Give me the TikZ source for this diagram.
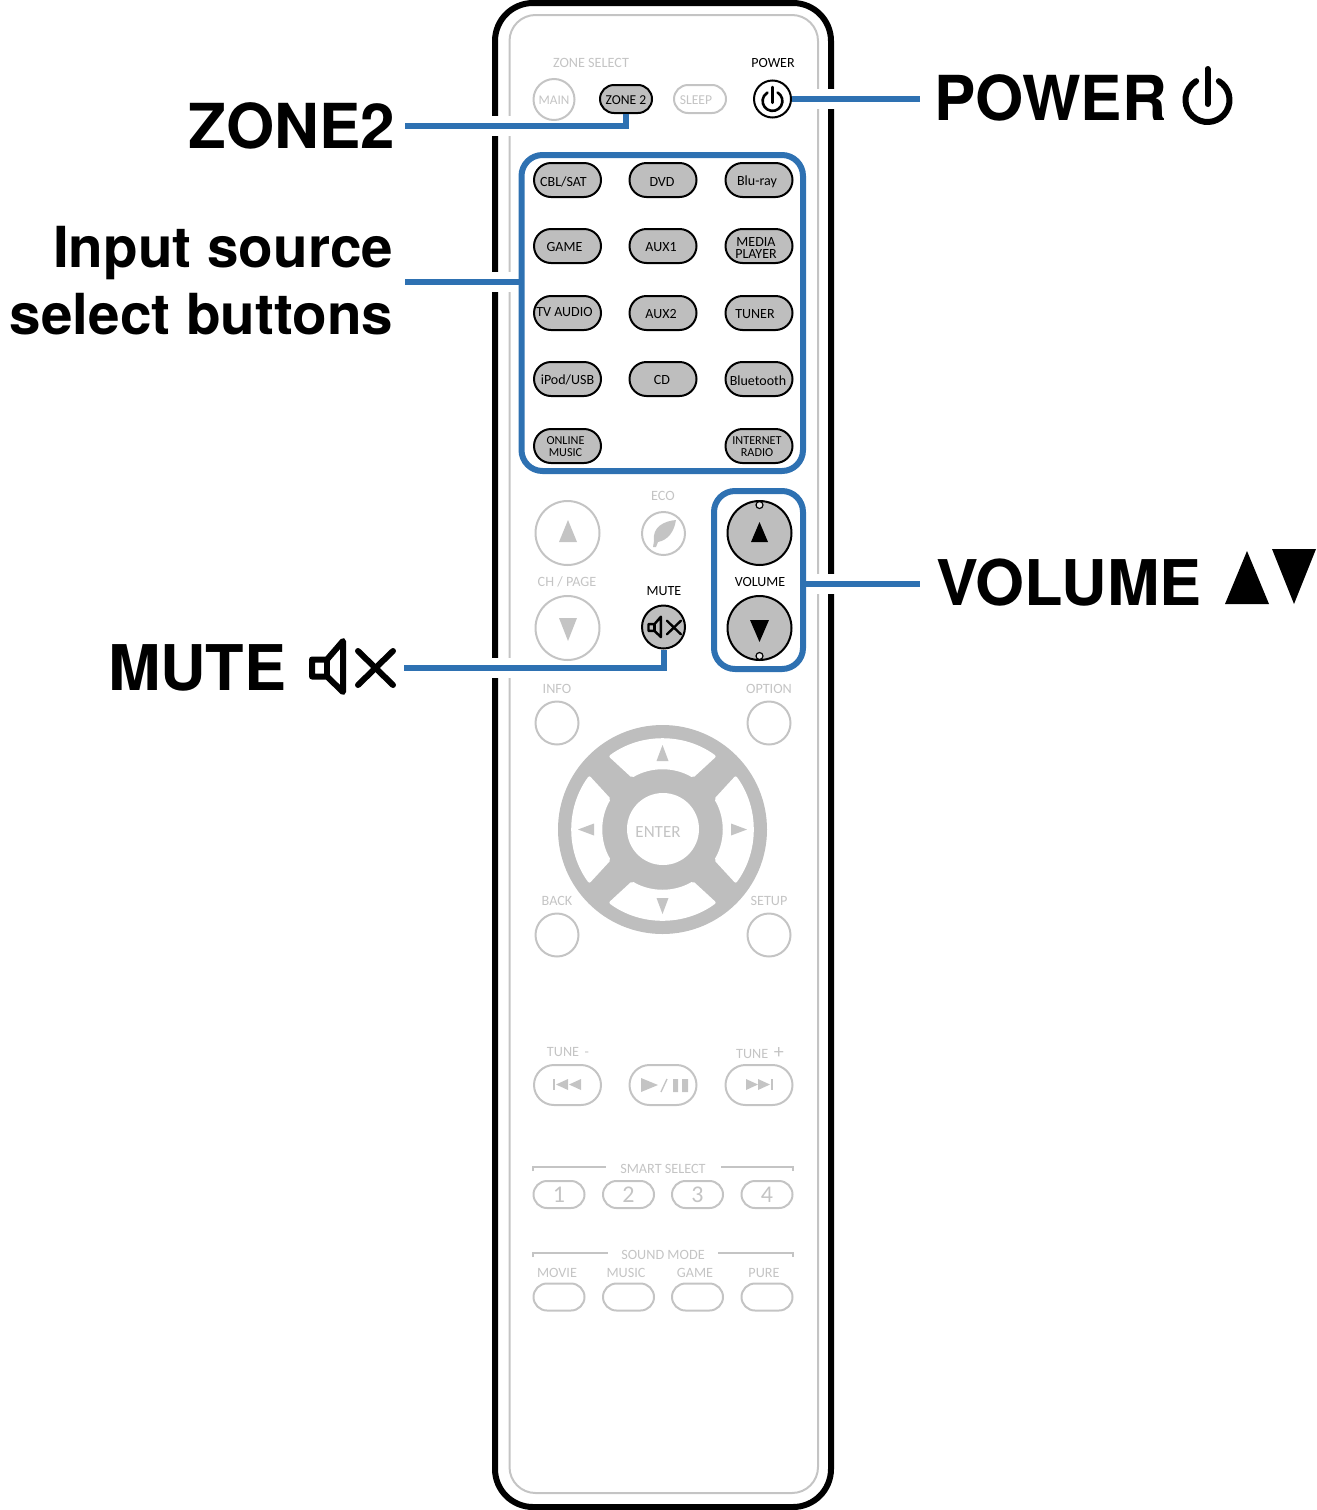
\documentclass[tikz,border=0pt]{standalone}
\usepackage{fontspec}
\setmainfont{Carlito}
\newfontfamily\heavyfont{TeX Gyre Heros}
\usetikzlibrary{calc,shapes.misc}
\definecolor{rcblue}{RGB}{46,113,178}
\definecolor{rcgray}{RGB}{190,190,190}
\definecolor{rcdim}{RGB}{196,196,196}
\newcommand{\powerglyph}[4]{%
  \begin{scope}[shift={(#1,#2)},scale=#3]
    \draw[line width=#4,line cap=round] (0,-31)--(0,4);
    \draw[line width=#4,line cap=round] (301:22) arc[start angle=301,end angle=599,radius=22];
  \end{scope}
}
\newcommand{\muteglyph}[4]{%
  \begin{scope}[shift={(#1,#2)},scale=#3,line width=#4,line join=round,line cap=round]
    \draw (-40,-8.5)--(-25,-8.5)--(-9,-27)--(-9,24)--(-25,8.5)--(-40,8.5)--cycle;
    \draw (-25,-8.5)--(-25,8.5);
    \draw (6,-17)--(41,17);
    \draw (41,-17)--(6,17);
  \end{scope}
}
\newcommand{\smallfont}{\fontsize{6.1}{6}\selectfont}
\tikzset{
  rimline/.style={line width=3pt,rounded corners=19},
  rimthin/.style={line width=1pt,draw=rcdim,rounded corners=13},
  halo/.style={line width=10pt,draw=white},
  dimtext/.style={font=\fontsize{7.1}{8}\selectfont,text=rcdim,inner sep=0pt,yshift=-.5pt},
  blacktext/.style={font=\fontsize{7}{8}\selectfont,inner sep=0pt,yshift=-.5pt},
  btntext/.style={font=\fontsize{7}{6}\selectfont,align=center,inner sep=0pt,yshift=-.5pt},
  srcpill/.style={rounded rectangle,draw,line width=1pt,fill=rcgray,minimum width=33.5pt,minimum height=17pt,inner sep=0pt},
  dimpill/.style={rounded rectangle,draw=rcdim,line width=1pt,minimum width=25.5pt,minimum height=13.5pt,inner sep=0pt},
  dimring/.style={circle,draw=rcdim,line width=1pt,inner sep=0pt},
  bluebox/.style={draw=rcblue,line width=3pt,rounded corners=10.5pt},
  callout/.style={draw=rcblue,line width=3pt},
  biglabel/.style={font=\heavyfont\bfseries\fontsize{31}{33.5}\selectfont,inner ysep=0pt,outer sep=0pt,text height=23.5pt,text depth=1.5pt},
}
\begin{document}
\begin{tikzpicture}[x=.5pt,y=-.5pt]
    \useasboundingbox (0,0) rectangle (1317,1510);
    \draw[rimline] (495,3) rectangle (831,1507);
    \draw[rimthin] (509.5,15) rectangle (818,1493);
    \foreach \hy in {126,282,668}{\draw[halo] (488,\hy)--(517,\hy);}
    \foreach \hy in {99,584}{\draw[halo] (811,\hy)--(838,\hy);}

    \node[dimtext] (zonesel) at (591,62) {ZONE SELECT};
    \node[blacktext] (powertxt) at (773,62) {POWER};
    \node[dimring,minimum size=20.5pt,label={[dimtext,font=\fontsize{6.6}{8}\selectfont]center:MAIN}] (mainbtn) at (554,99.5) {};
    \node[srcpill,minimum width=26pt,minimum height=14pt,label={[btntext,font=\fontsize{6.8}{8}\selectfont]center:ZONE 2}] (zone2) at (626,99) {};
    \node[dimpill,minimum width=26pt,minimum height=14pt,label={[dimtext,xshift=-2pt,font=\fontsize{6.8}{8}\selectfont]center:SLEEP}] (sleep) at (700,99) {};
    \node[circle,draw,line width=1pt,minimum size=18.5pt,inner sep=0pt] (powerbtn) at (772.5,99) {};
    \powerglyph{772.5}{101}{.45}{1.3pt}

    \foreach \btn/\bx/\by/\txt/\dx/\dy in {
      cbl/567.5/180/{CBL/SAT}/-2/-.5, dvd/663/180/{DVD}/-.5/-.5, bluray/759/180/{Blu-ray}/-1/-.5,
      game/567.5/246/{GAME}/-1.5/0, aux1/663/246/{AUX1}/-1/0, media/759/246/{MEDIA\\PLAYER}/-1.5/-.5,
      tvaudio/567.5/313/{TV AUDIO}/-1.5/1, aux2/663/313/{AUX2}/-1/0, tuner/759/313/{TUNER}/-2/0,
      ipod/567.5/379/{iPod/USB}/0/0, cd/663/379/{CD}/-.5/0, bluetooth/759/379/{Bluetooth}/-.5/-.5,
      online/567.5/446/{\smallfont ONLINE\\\smallfont MUSIC}/-1/0, internet/759/446/{\smallfont INTERNET\\\smallfont RADIO}/-1/0}{
      \node[srcpill,label={[btntext,xshift=\dx pt,yshift=\dy pt]center:{\txt}}] (\btn) at (\bx,\by) {};
    }

    \node[dimring,minimum size=32pt] (chup) at (567.5,533) {};
    \node[dimring,minimum size=32pt] (chdown) at (567.5,628) {};
    \fill[rcdim] (559,542)--(568,520)--(577,542)--cycle;
    \fill[rcdim] (559,618)--(568,641)--(577,618)--cycle;
    \node[dimtext] (chtxt) at (567,581) {CH / PAGE};
    \node[dimtext] (ecotxt) at (663,495) {ECO};
    \node[dimring,minimum size=21.5pt] (eco) at (663.5,533.5) {};
    \fill[rcdim] (676,520) .. controls (664,521) and (652,527) .. (654,541) -- (653,547) -- (656,547) -- (658,542) .. controls (668,540) and (674,532) .. (676,520) -- cycle;
    \node[blacktext] (mutetxt) at (664,590) {MUTE};
    \node[circle,draw,line width=1pt,fill=rcgray,minimum size=21.5pt,inner sep=0pt] (mutebtn) at (663.5,627) {};
    \muteglyph{664.5}{627.5}{.4}{1.2pt}

    \node[circle,draw,line width=1pt,fill=rcgray,minimum size=32pt,inner sep=0pt] (volup) at (759.5,533) {};
    \node[circle,draw,line width=1pt,fill=rcgray,minimum size=32pt,inner sep=0pt] (voldown) at (759.5,628) {};
    \node[circle,draw,line width=.6pt,fill=rcgray!40,minimum size=3.5pt,inner sep=0pt] (dotup) at (759.5,505) {};
    \node[circle,draw,line width=.6pt,fill=rcgray!40,minimum size=3.5pt,inner sep=0pt] (dotdown) at (759.5,656) {};
    \fill (751,542)--(759.5,522)--(768,542)--cycle;
    \fill (750,620)--(759.5,642)--(769,620)--cycle;
    \node[blacktext] (voltxt) at (760,581) {VOLUME};

    \foreach \btn/\bx/\by/\txt/\ty in {info/557/723/INFO/688, option/769/723/OPTION/688, back/557/935/BACK/900, setup/769/935/SETUP/900}{
      \node[dimring,minimum size=21.5pt] (\btn) at (\bx,\by) {};
      \node[dimtext] (\btn txt) at (\bx,\ty) {\txt};
    }

    \fill[rcgray] (662.5,829.5) circle[radius=104.5];
    \foreach \ang in {0,90,180,270}{
      \begin{scope}[shift={(662.5,829.5)},rotate=\ang]
        \fill[white,rounded corners=1pt] (233.6:91) arc[start angle=233.6,end angle=306.4,radius=91]
          -- (300.6:60) arc[start angle=300.6,end angle=239.4,radius=60] -- cycle;
        \fill[rcdim] (-6,-68.5)--(0,-84.5)--(6,-68.5)--cycle;
      \end{scope}
    }
    \node[circle,fill=white,minimum size=36pt,inner sep=0pt] (enter) at (663,829) {};
    \node[dimtext,font=\fontsize{8.5}{9}\selectfont] (entertxt) at (658,831) {ENTER};

    \node[dimtext] (tunemin) at (568,1051) {TUNE \,-};
    \node[dimtext] (tunepls) at (760,1052) {TUNE \,{\fontsize{10}{10}\selectfont+}};
    \foreach \btn/\bx in {prev/567.5,play/663,next/759}{
      \node[dimpill,minimum width=33.5pt,minimum height=20pt] (\btn) at (\bx,1085) {};
    }
    \fill[rcdim] (553,1079) rectangle (555,1090);
    \fill[rcdim] (568,1079)--(556,1084.5)--(568,1090)--cycle (581,1079)--(569,1084.5)--(581,1090)--cycle;
    \fill[rcdim] (773,1079) rectangle (771,1090);
    \fill[rcdim] (746,1079)--(758,1084.5)--(746,1090)--cycle (758,1079)--(770,1084.5)--(758,1090)--cycle;
    \fill[rcdim] (641,1078)--(658,1085)--(641,1092)--cycle;
    \draw[rcdim,line width=.7pt] (667,1079)--(661,1092);
    \fill[rcdim] (673,1079) rectangle (678,1092) (682,1079) rectangle (688,1092);

    \draw[rcdim,line width=.6pt] (533,1171)--(533,1167)--(606,1167) (721,1167)--(793,1167)--(793,1171);
    \node[dimtext] (smarttxt) at (663,1168) {SMART SELECT};
    \foreach \btn/\bx/\txt in {smart1/559/1,smart2/628.5/2,smart3/697.5/3,smart4/767/4}{
      \node[dimpill,font=\fontsize{12}{12}\selectfont,text=rcdim] (\btn) at (\bx,1194.5) {\txt};
    }
    \draw[rcdim,line width=.6pt] (533,1257)--(533,1253)--(608,1253) (718,1253)--(793,1253)--(793,1257);
    \node[dimtext] (soundtxt) at (663,1254) {SOUND MODE};
    \foreach \btn/\bx/\txt/\tx in {movie/559/MOVIE/557,music/628.5/MUSIC/626,gamemode/697.5/GAME/695,pure/767/PURE/764}{
      \node[dimpill] (\btn) at (\bx,1297) {};
      \node[dimtext] (\btn txt) at (\tx,1272) {\txt};
    }

    \node[bluebox,minimum width=140.75pt,minimum height=158pt] (srcbox) at (662.25,313) {};
    \node[bluebox,minimum width=44.5pt,minimum height=89pt] (volbox) at (758.5,580) {};

    \node[biglabel,anchor=east,inner xsep=5pt] (lblzone) at (405,126) {ZONE2};
    \node[biglabel,anchor=west,inner xsep=7pt,text depth=2.5pt] (lblpower) at (920,99) {POWER};
    \powerglyph{1207.5}{100}{1}{3pt}
    \node[biglabel,anchor=west,inner xsep=8pt,text depth=2.5pt,font=\heavyfont\bfseries\fontsize{31.5}{33.5}\selectfont] (lblvol) at (920,584) {VOLUME};
    \fill (1225,604)--(1247,551)--(1269,604)--cycle;
    \fill (1272,549)--(1294,604)--(1316,549)--cycle;
    \node[biglabel,anchor=west,inner xsep=0pt,font=\heavyfont\bfseries\fontsize{31.5}{33.5}\selectfont] (lblmute) at (108,668) {MUTE};
    \muteglyph{352}{668}{1}{3pt}
    \node[anchor=east,align=right,font=\heavyfont\bfseries\fontsize{28.3}{33.5}\selectfont,inner xsep=6pt,inner ysep=0pt,outer sep=0pt] (lblsrc) at (405,280.5) {Input source\\select buttons};
    \coordinate (muteend) at (404,668);

    \draw[callout] (lblzone.east) -| (zone2.south);
    \draw[callout] (powerbtn.east) -- (lblpower.west);
    \draw[callout] ([yshift=-.75pt]lblsrc.east) -- ([yshift=-.75pt]lblsrc.east -| srcbox.west);
    \draw[callout] (volbox.east |- lblvol.west) -- (lblvol.west);
    \draw[callout] (muteend) -| (mutebtn.south);
  \end{tikzpicture}
\end{document}
